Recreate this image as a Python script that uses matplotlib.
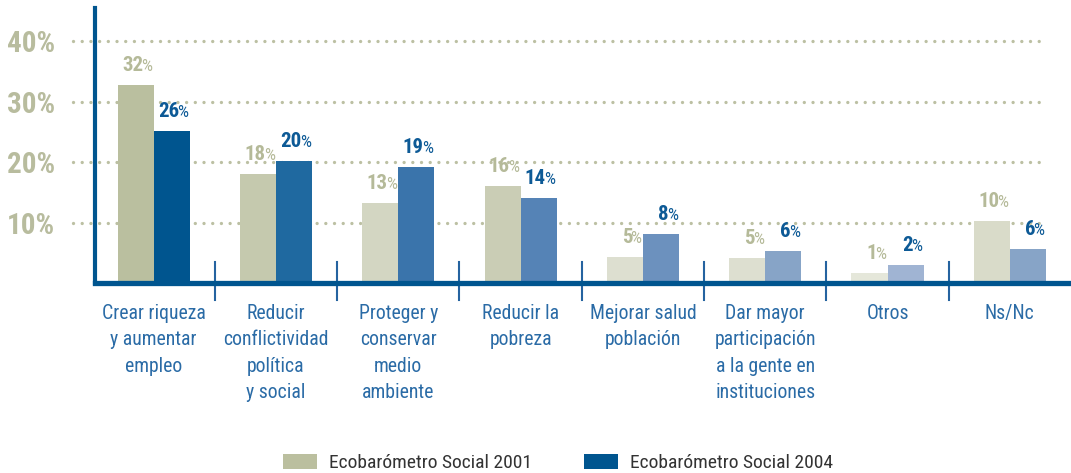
import matplotlib
matplotlib.use("Agg")
import matplotlib.pyplot as plt
from matplotlib import font_manager
from matplotlib.patches import Patch

categories = ["Crear riqueza\ny aumentar\nempleo",
              "Reducir\nconflictividad\npolítica\ny social",
              "Proteger y\nconservar\nmedio\nambiente",
              "Reducir la\npobreza",
              "Mejorar salud\npoblación",
              "Dar mayor\nparticipación\na la gente en\ninstituciones",
              "Otros",
              "Ns/Nc"]
values_2001 = [32.8, 18.1, 13.3, 16.1, 4.3, 4.1, 1.7, 10.3]
values_2004 = [25.2, 20.2, 19.2, 14.1, 8.1, 5.3, 3.0, 5.6]
labels_2001 = ["32", "18", "13", "16", "5", "5", "1", "10"]
labels_2004 = ["26", "20", "19", "14", "8", "6", "2", "6"]
yticks = [10, 20, 30, 40]
ytick_labels = ["10%", "20%", "30%", "40%"]
series_names = ["Ecobarómetro Social 2001", "Ecobarómetro Social 2004"]

colors_2001 = ["#BABF9F", "#C5C9AE", "#D3D6C2", "#CACDB5", "#DDDFD0", "#DDDFD0", "#E5E7DA", "#D9DBC9"]
colors_2004 = ["#00558F", "#1F69A0", "#3A74AB", "#5583B6", "#6C91BE", "#87A4C7", "#A0B4D3", "#87A4C7"]

avail = {f.name for f in font_manager.fontManager.ttflist}
fam = "DejaVu Sans"
for cand in ["Liberation Sans Narrow", "Roboto Condensed", "Open Sans Condensed", "Liberation Sans"]:
    if cand in avail:
        fam = cand
        break
plt.rcParams["font.family"] = [fam, "DejaVu Sans"]

fig = plt.figure(figsize=(10.71, 4.73), dpi=100)
ax = fig.add_axes([95 / 1071, (473 - 283) / 473, 1 - 95 / 1071, (283 - 8) / 473])

n = len(categories)
xs = list(range(n))
w = 0.295
ax.bar([x - w / 2 for x in xs], values_2001, width=w, color=colors_2001, zorder=3)
ax.bar([x + w / 2 for x in xs], values_2004, width=w, color=colors_2004, zorder=3)

ax.set_xlim(-0.48, 7.5)
ax.set_ylim(0, 45.5)

grid_c = "#BCC0A3"
for t in yticks:
    ax.plot([-0.66, 7.30], [t, t], color=grid_c, linewidth=2.4,
            linestyle=(0, (0.01, 2.6)), dash_capstyle="round", clip_on=False, zorder=2)

ax.set_yticks(yticks)
ax.set_yticklabels(ytick_labels, fontsize=21, fontweight="bold", color="#B8BC9E")
ax.tick_params(axis="y", length=0, pad=29)
ax.set_xticks([])

for s in ["top", "right"]:
    ax.spines[s].set_visible(False)
ax.spines["left"].set_linewidth(3.0)
ax.spines["left"].set_color("#00558F")
ax.spines["bottom"].set_linewidth(3.8)
ax.spines["bottom"].set_color("#00558F")
ax.spines["left"].set_zorder(5)
ax.spines["bottom"].set_zorder(5)

# separators
for i in range(n - 1):
    ax.plot([i + 0.5, i + 0.5], [3.5, -2.8], color="#2563A0", linewidth=1.5, clip_on=False, zorder=4)

# value labels
for i in xs:
    for val, lab, off, col in [(values_2001[i], labels_2001[i], -w / 2, "#B5BA99"),
                               (values_2004[i], labels_2004[i], w / 2, "#0D5A96")]:
        xc = i + off + 0.06
        yb = val + 2.3
        ax.text(xc, yb, lab, ha="right", va="baseline", fontsize=15, fontweight="bold", color=col, zorder=6)
        ax.annotate("%", (xc, yb), xytext=(-1.2, 0), textcoords="offset points",
                    ha="left", va="baseline", fontsize=12.5, color=col, zorder=6)

# category labels
for i, c in enumerate(categories):
    ax.text(i, -3.5, c, ha="center", va="top", fontsize=14.2, color="#2A6BA6",
            linespacing=1.48, clip_on=False)

handles = [Patch(facecolor="#BBBF9F"), Patch(facecolor="#00558F")]
fig.legend(handles, series_names, loc="center", bbox_to_anchor=(558 / 1071, 1 - 463 / 473),
           ncol=2, frameon=False, fontsize=14, handlelength=1.75, handleheight=0.8,
           handletextpad=0.6, columnspacing=2.7, labelcolor="#333333")

fig.savefig("out.png", dpi=100)
